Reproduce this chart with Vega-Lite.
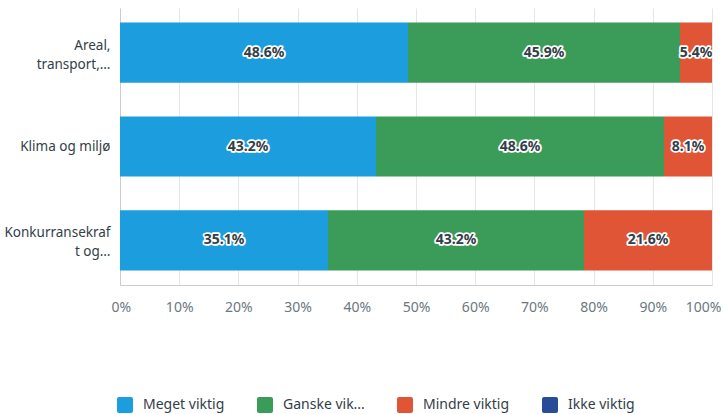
{
  "$schema": "https://vega.github.io/schema/vega-lite/v6.json",
  "width": 592,
  "height": 277,
  "autosize": {"type": "none"},
  "padding": {"left": 120, "top": 8, "right": 11, "bottom": 129},
  "background": "white",
  "config": {"view": {"stroke": null}, "font": "Noto Sans"},
  "data": {
    "values": [
      {"cat": "Areal, transport,…", "series": "Meget viktig", "rank": 1, "pct": 0.486},
      {"cat": "Areal, transport,…", "series": "Ganske viktig", "rank": 2, "pct": 0.459},
      {"cat": "Areal, transport,…", "series": "Mindre viktig", "rank": 3, "pct": 0.054},
      {"cat": "Areal, transport,…", "series": "Ikke viktig", "rank": 4, "pct": 0},
      {"cat": "Klima og miljø", "series": "Meget viktig", "rank": 1, "pct": 0.432},
      {"cat": "Klima og miljø", "series": "Ganske viktig", "rank": 2, "pct": 0.486},
      {"cat": "Klima og miljø", "series": "Mindre viktig", "rank": 3, "pct": 0.081},
      {"cat": "Klima og miljø", "series": "Ikke viktig", "rank": 4, "pct": 0},
      {"cat": "Konkurransekraft og…", "series": "Meget viktig", "rank": 1, "pct": 0.351},
      {"cat": "Konkurransekraft og…", "series": "Ganske viktig", "rank": 2, "pct": 0.432},
      {"cat": "Konkurransekraft og…", "series": "Mindre viktig", "rank": 3, "pct": 0.216},
      {"cat": "Konkurransekraft og…", "series": "Ikke viktig", "rank": 4, "pct": 0}
    ]
  },
  "encoding": {
    "y": {
      "field": "cat",
      "type": "nominal",
      "sort": ["Areal, transport,…", "Klima og miljø", "Konkurransekraft og…"],
      "scale": {"paddingInner": 0.36, "paddingOuter": 0.155},
      "axis": {
        "title": null,
        "ticks": false,
        "domain": true,
        "domainColor": "#cccccc",
        "labelPadding": 10,
        "labelFontSize": 13.5,
        "labelColor": "#333e48",
        "labelLineHeight": 19,
        "labelLimit": 200,
        "labelOffset": {"condition": {"test": "datum.value == 'Klima og miljø'", "value": 0}, "value": -7},
        "labelExpr": "datum.value == 'Areal, transport,…' ? ['Areal,', 'transport,…'] : datum.value == 'Konkurransekraft og…' ? ['Konkurransekraf', 't og…'] : datum.value"
      }
    },
    "order": {"field": "rank", "type": "quantitative"}
  },
  "layer": [
    {
      "mark": {"type": "bar"},
      "encoding": {
        "x": {
          "field": "pct",
          "type": "quantitative",
          "stack": "normalize",
          "scale": {"domain": [0, 1], "nice": false},
          "axis": {
            "title": null,
            "values": [0, 0.1, 0.2, 0.3, 0.4, 0.5, 0.6, 0.7, 0.8, 0.9, 1],
            "format": ".0%",
            "grid": true,
            "gridColor": "#e6e6e6",
            "domainColor": "#cccccc",
            "ticks": false,
            "labelFlush": true,
            "labelFlushOffset": 9,
            "labelColor": "#6b787f",
            "labelFontSize": 14,
            "labelPadding": 15
          }
        },
        "color": {
          "field": "series",
          "type": "nominal",
          "scale": {
            "domain": ["Meget viktig", "Ganske viktig", "Mindre viktig", "Ikke viktig"],
            "range": ["#1b9dde", "#3b9b58", "#e05535", "#294c96"]
          },
          "legend": {
            "title": null,
            "orient": "none",
            "legendX": -3,
            "legendY": 389,
            "direction": "horizontal",
            "symbolType": "M-0.75,-1 H0.75 Q1,-1 1,-0.75 V0.75 Q1,1 0.75,1 H-0.75 Q-1,1 -1,0.75 V-0.75 Q-1,-1 -0.75,-1 Z",
            "symbolSize": 256,
            "symbolStrokeWidth": 0,
            "symbolOpacity": 1,
            "labelFontSize": 14,
            "labelColor": "#333e48",
            "labelOffset": 10,
            "columnPadding": 32,
            "labelExpr": "datum.label == 'Ganske viktig' ? 'Ganske vik...' : datum.label"
          }
        }
      }
    },
    {
      "mark": {"type": "text", "stroke": "white", "strokeWidth": 3.5, "strokeJoin": "round", "fontWeight": "bold", "fontSize": 14},
      "encoding": {
        "x": {"field": "pct", "type": "quantitative", "stack": "normalize", "bandPosition": 0.5},
        "detail": {"field": "series", "type": "nominal"},
        "text": {"condition": {"test": "datum.pct > 0", "field": "pct", "type": "quantitative", "format": ".1%"}, "value": ""}
      }
    },
    {
      "mark": {"type": "text", "fill": "#333e48", "fontWeight": "bold", "fontSize": 14},
      "encoding": {
        "x": {"field": "pct", "type": "quantitative", "stack": "normalize", "bandPosition": 0.5},
        "detail": {"field": "series", "type": "nominal"},
        "text": {"condition": {"test": "datum.pct > 0", "field": "pct", "type": "quantitative", "format": ".1%"}, "value": ""}
      }
    }
  ]
}
